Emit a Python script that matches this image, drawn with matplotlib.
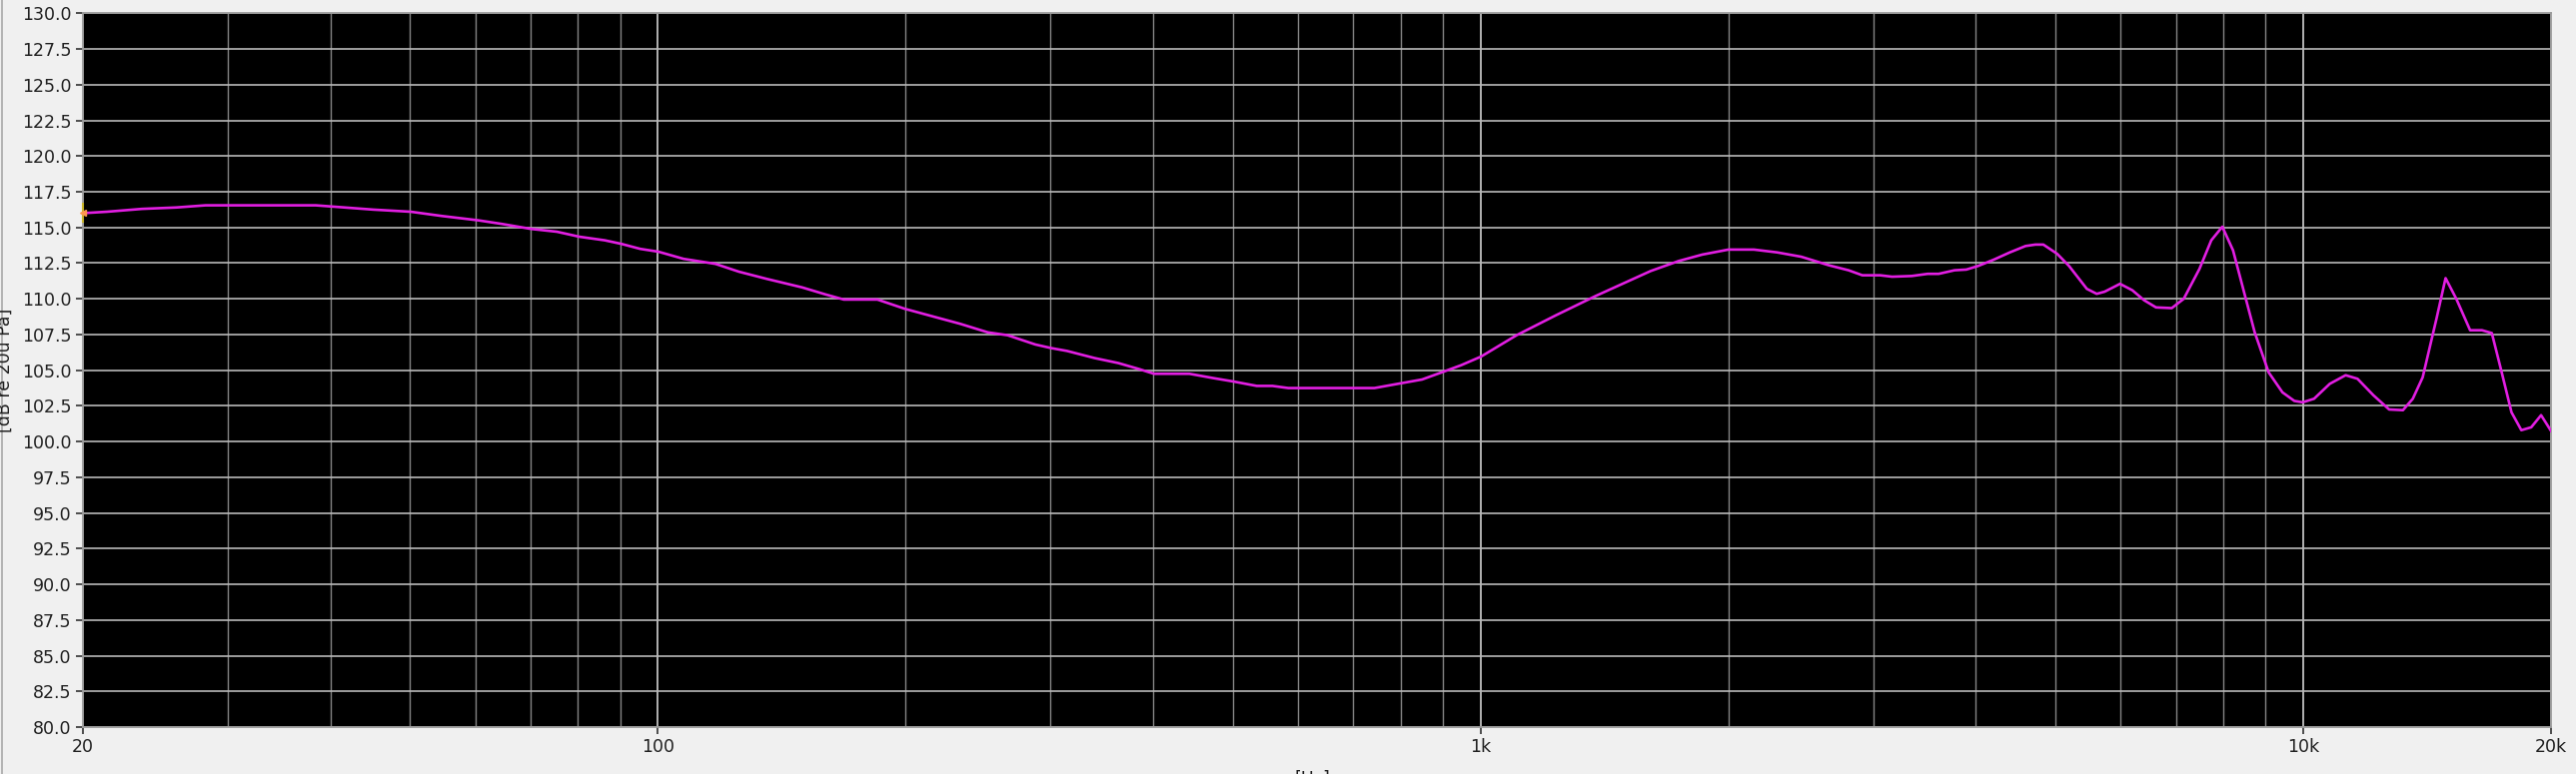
import matplotlib
matplotlib.use('Agg')
import matplotlib.pyplot as plt
from matplotlib.lines import Line2D
from matplotlib.ticker import FixedLocator, NullFormatter

# frequency response
freq_hz = [20, 21.4, 23.6, 26.0, 28.2, 31.2, 38.4, 45.1, 50.1, 54.7, 60.5, 64.6, 70.1, 75.4,
           80.3, 86.2, 90.3, 95.2, 100.2, 107.5, 117.5, 125.5, 135.6, 149.8, 160.1, 168.3,
           184.9, 199.7, 218.1, 233.1, 251.9, 266.2, 287.7, 300.7, 314.3, 339.6, 362.9, 383.5,
           400.9, 442.8, 473.1, 501.7, 534.5, 558.6, 583.8, 636.4, 743, 794, 849, 902, 947,
           1001, 1106, 1235, 1380, 1507, 1610, 1741, 1860, 2001, 2149, 2295, 2453, 2651, 2801,
           2911, 3059, 3163, 3343, 3494, 3604, 3767, 3894, 4024, 4207, 4397, 4596, 4725, 4831,
           5022, 5191, 5456, 5609, 5734, 5987, 6197, 6405, 6621, 6920, 7155, 7478, 7729, 7972,
           8214, 8491, 8728, 9075, 9432, 9751, 9980, 10304, 10770, 11257, 11637, 12164, 12714,
           13214, 13584, 13965, 14514, 14890, 15343, 15948, 16485, 16947, 17422, 17906, 18407,
           18922, 19452, 20000]
spl_db = [116.0, 116.1, 116.3, 116.4, 116.55, 116.55, 116.55, 116.25, 116.1, 115.8, 115.5,
          115.25, 114.9, 114.7, 114.35, 114.1, 113.85, 113.5, 113.3, 112.8, 112.45, 111.9,
          111.4, 110.8, 110.3, 109.95, 109.95, 109.3, 108.7, 108.25, 107.65, 107.45, 106.8,
          106.55, 106.35, 105.85, 105.5, 105.1, 104.75, 104.75, 104.45, 104.2, 103.9, 103.9,
          103.75, 103.75, 103.75, 104.05, 104.35, 104.9, 105.35, 105.95, 107.45, 108.85, 110.2,
          111.2, 111.95, 112.65, 113.1, 113.45, 113.45, 113.25, 112.95, 112.35, 112.0, 111.65,
          111.65, 111.55, 111.6, 111.75, 111.75, 112.0, 112.05, 112.3, 112.75, 113.25, 113.7,
          113.8, 113.8, 113.15, 112.3, 110.7, 110.35, 110.5, 111.05, 110.6, 109.9, 109.4,
          109.35, 110.0, 112.1, 114.1, 115.05, 113.4, 110.25, 107.65, 104.85, 103.45, 102.85,
          102.75, 103.0, 104.05, 104.65, 104.4, 103.25, 102.25, 102.2, 103.0, 104.5, 108.6,
          111.45, 110.0, 107.8, 107.8, 107.6, 104.85, 102.05, 100.8, 101.0, 101.85, 100.75]

x_ticks = [20, 100, 1000, 10000, 20000]
x_labels = ['20', '100', '1k', '10k', '20k']
x_minor = [30, 40, 50, 60, 70, 80, 90, 200, 300, 400, 500, 600, 700, 800, 900,
           2000, 3000, 4000, 5000, 6000, 7000, 8000, 9000]
y_ticks = [80 + 2.5 * i for i in range(21)]

plt.rcParams['font.family'] = ['DejaVu Sans']

fig = plt.figure(figsize=(25.78, 7.75), dpi=100, facecolor='#f0f0f0')
ax = fig.add_axes([0.0321, 0.0606, 0.9582, 0.9222])
ax.set_facecolor('black')

ax.plot(freq_hz, spl_db, color='#e21ee2', lw=1.9, zorder=3)
# cursor marker at the first point
ax.plot(freq_hz[0], spl_db[0], marker='|', ms=14, mew=1.5, color='#c8b428', clip_on=False, zorder=4)
ax.plot(freq_hz[0], spl_db[0], marker='<', ms=5, color='#ff9650', clip_on=False, zorder=5)

ax.set_xscale('log')
ax.set_xlim(20, 20000)
ax.set_ylim(80, 130)

ax.xaxis.set_major_locator(FixedLocator(x_ticks))
ax.set_xticklabels(x_labels)
ax.xaxis.set_minor_locator(FixedLocator(x_minor))
ax.xaxis.set_minor_formatter(NullFormatter())
ax.set_yticks(y_ticks)
ax.set_yticklabels(['%.1f' % v for v in y_ticks])

ax.tick_params(axis='both', which='major', labelsize=12.5, colors='#202020',
               length=5, width=1.1, pad=3, direction='out')
ax.tick_params(axis='x', which='minor', length=0)

ax.grid(True, axis='y', which='major', color='#b8b8b8', lw=1.2, zorder=1)
ax.grid(True, axis='x', which='major', color='#d0d0d0', lw=1.2, zorder=1)
ax.grid(True, axis='x', which='minor', color='#858585', lw=1.0, zorder=1)
ax.set_axisbelow(True)

for s in ax.spines.values():
    s.set_color('#9a9a9a')
    s.set_linewidth(1.3)

fig.text(0.0018, 0.521, '[dB re 20u Pa]', rotation=90, ha='center', va='center',
         fontsize=12.5, color='#202020')
fig.text(0.5095, 0.006, '[Hz]', ha='center', va='top', fontsize=12.5, color='#202020')

# window frame on the left edge
fig.add_artist(Line2D([0.0008, 0.0008], [0, 1], color='#a8a8a8', lw=1.2))

fig.savefig('out.png', dpi=100, facecolor=fig.get_facecolor())
